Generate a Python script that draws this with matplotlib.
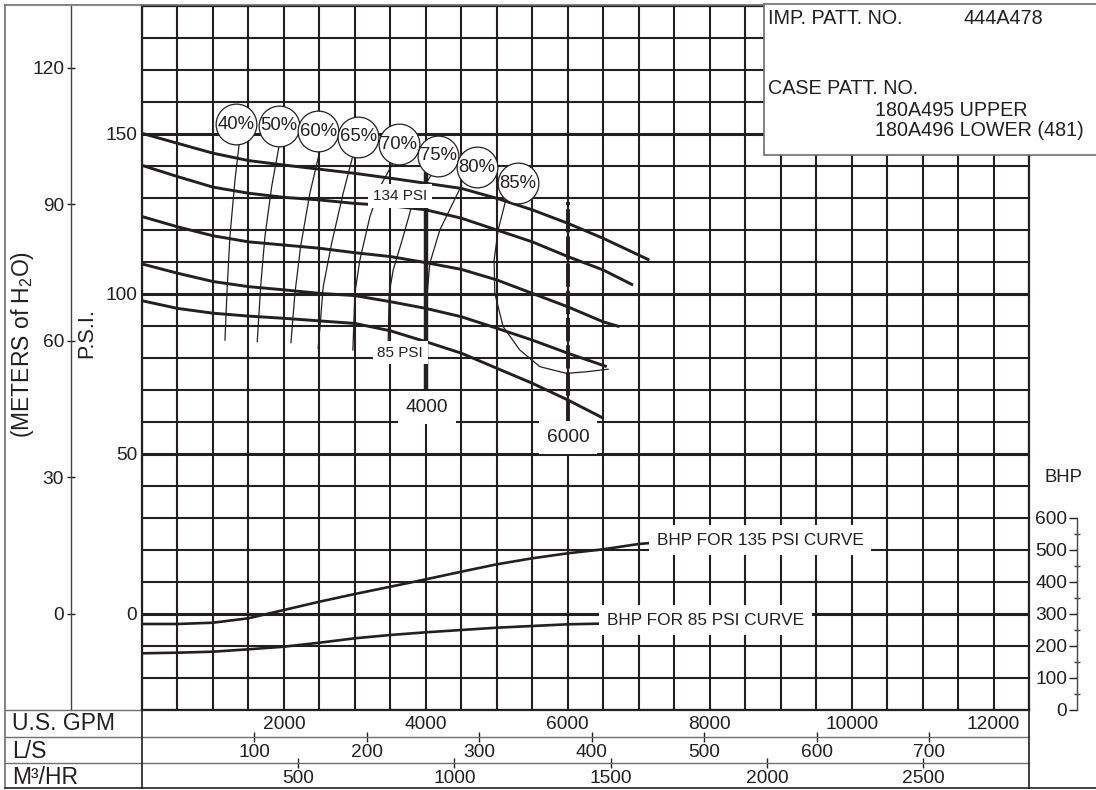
import matplotlib
matplotlib.use("Agg")
import matplotlib.pyplot as plt
from matplotlib.ticker import MultipleLocator, NullLocator
from matplotlib.patches import Rectangle
from matplotlib.lines import Line2D

plt.rcParams['font.family'] = ['Liberation Sans', 'DejaVu Sans']
plt.rcParams['mathtext.default'] = 'regular'

INK = '#231f20'
GREY = '#6d6e71'

# ---------------- data ----------------
# head curves (U.S. GPM vs P.S.I.)
head_a_gpm = [0, 500, 1000, 1500, 2000, 2500, 3000, 3500, 4000, 4500, 5000, 5500, 6000, 6500, 7150]
head_a_psi = [150.2, 147.1, 144.0, 141.7, 140.3, 139.0, 137.7, 136.2, 134.6, 133.0, 129.9, 126.3, 122.1, 117.4, 110.6]
head_b_gpm = [0, 500, 1000, 1500, 2000, 2500, 3000, 3500, 4000, 4500, 5000, 5500, 6000, 6500, 6920]
head_b_psi = [140.2, 136.7, 133.4, 131.5, 130.2, 129.4, 128.3, 127.6, 126.3, 123.7, 120.0, 116.3, 111.7, 107.5, 102.8]
head_c_gpm = [0, 500, 1000, 1500, 2000, 2500, 3000, 3500, 4000, 4500, 5000, 5500, 6000, 6500, 6730]
head_c_psi = [124.2, 121.0, 118.2, 116.3, 115.3, 114.3, 112.9, 111.7, 109.8, 107.7, 104.4, 100.2, 96.0, 91.3, 89.8]
head_d_gpm = [0, 500, 1000, 1500, 2000, 2500, 3000, 3500, 4000, 4500, 5000, 5500, 6000, 6550]
head_d_psi = [109.4, 106.5, 103.9, 102.3, 101.3, 100.2, 99.5, 97.6, 95.5, 92.9, 89.3, 85.6, 81.5, 77.3]
head_e_gpm = [0, 500, 1000, 1500, 2000, 2500, 3000, 3500, 4000, 4500, 5000, 5500, 6000, 6500]
head_e_psi = [97.9, 95.5, 94.0, 93.1, 92.4, 91.6, 90.8, 88.5, 85.1, 81.5, 76.8, 72.1, 66.9, 61.2]

# brake horsepower curves
bhp135_gpm = [0, 500, 1000, 1500, 2000, 2500, 3000, 3500, 4000, 4500, 5000, 5500, 6000, 6500, 7000, 7170]
bhp135_val = [268.8, 268.8, 272.8, 286.6, 312.5, 338.4, 362.5, 385.3, 408.4, 432.2, 455.3, 474.1, 489.7, 502.2, 518.8, 522.0]
bhp85_gpm = [0, 500, 1000, 1500, 2000, 2500, 3000, 3500, 4000, 4500, 5000, 5500, 6000, 6430]
bhp85_val = [177.2, 179.1, 182.2, 189.7, 197.8, 210.3, 224.1, 234.4, 242.8, 250.0, 257.2, 262.5, 267.8, 269.7]

# efficiency bubbles and iso-efficiency lines
eff_labels = ['40%', '50%', '60%', '65%', '70%', '75%', '80%', '85%']
eff_bubble_gpm = [1324, 1930, 2483, 3047, 3620, 4173, 4714, 5300]
eff_bubble_psi = [153.0, 152.6, 150.8, 149.2, 146.8, 143.2, 139.6, 134.6]
eff40_gpm = [1370, 1310, 1239, 1201, 1169]
eff40_psi = [146.9, 135.6, 117.9, 102.3, 85.6]
eff50_gpm = [1934, 1827, 1732, 1672, 1624]
eff50_psi = [146.6, 133.5, 117.9, 102.3, 85.1]
eff60_gpm = [2507, 2366, 2235, 2155, 2099]
eff60_psi = [144.8, 131.5, 114.8, 100.2, 84.8]
eff65_gpm = [2968, 2835, 2672, 2554, 2483]
eff65_psi = [142.9, 131.5, 115.8, 102.3, 83.0]
eff70_gpm = [3535, 3352, 3211, 3070, 3000, 2972]
eff70_psi = [140.9, 133.4, 124.1, 110.6, 100.3, 82.5]
eff75_gpm = [4085, 3799, 3680, 3540, 3483, 3469]
eff75_psi = [137.5, 127.3, 117.9, 107.5, 100.2, 85.1]
eff80_gpm = [4493, 4197, 4056, 4019, 3986]
eff80_psi = [133.5, 120.0, 109.6, 100.2, 87.8]
eff85_gpm = [5127, 5019, 4962, 4972, 5089, 5324, 5606, 5982, 6264, 6569]
eff85_psi = [129.4, 120.0, 110.6, 100.2, 89.8, 82.5, 77.3, 75.2, 75.7, 76.5]

# operating range markers
op_gpm = [4000, 6000]
op_psi_top = [138.1, 128.8]
op_psi_bottom = [69.4, 59.6]

# axes ticks
gpm_ticks = [2000, 4000, 6000, 8000, 10000, 12000]
psi_ticks = [0, 50, 100, 150]
meter_ticks = [0, 30, 60, 90, 120]
ls_ticks = [100, 200, 300, 400, 500, 600, 700]
m3h_ticks = [500, 1000, 1500, 2000, 2500]
bhp_ticks = [0, 100, 200, 300, 400, 500, 600]

PSI_PER_M = 1.4219
GPM_PER_LS = 15.850
GPM_PER_M3H = 4.4029

# ---------------- figure ----------------
W, H = 1096, 790
fig = plt.figure(figsize=(W / 100, H / 100), dpi=100)
fig.patch.set_facecolor('white')


def fx(px):
    return px / W


def fy(py):
    return 1 - py / H


ax = fig.add_axes([fx(142), fy(710), fx(1029) - fx(142), fy(6) - fy(710)])
ax.set_xlim(0, 12500)
ax.set_ylim(-30, 190)
ax.set_axisbelow(True)
ax.xaxis.set_minor_locator(MultipleLocator(500))
ax.yaxis.set_minor_locator(MultipleLocator(10))
ax.set_xticks(gpm_ticks)
ax.set_xticklabels([str(v) for v in gpm_ticks])
ax.set_yticks(psi_ticks)
ax.set_yticklabels([str(v) for v in psi_ticks])
ax.xaxis.grid(True, which='both', color=INK, lw=1.5)
ax.yaxis.grid(True, which='minor', color=INK, lw=1.5)
ax.yaxis.grid(True, which='major', color=INK, lw=2.2)
ax.tick_params(which='both', length=0, labelsize=13.8, colors=INK)
ax.tick_params(axis='x', pad=4.5)
ax.tick_params(axis='y', pad=3.5)
for s in ax.spines.values():
    s.set_color(INK)
    s.set_linewidth(1.6)

# meters of water axis
loc_m = (fx(71) - fx(142)) / (fx(1029) - fx(142))
secm = ax.secondary_yaxis(loc_m, functions=(lambda p: p / PSI_PER_M, lambda m: m * PSI_PER_M))
secm.set_yticks(meter_ticks)
secm.tick_params(direction='inout', length=6, width=1, pad=2, labelsize=13.8, colors=INK)
for s in secm.spines.values():
    s.set_color('#444444')
    s.set_linewidth(1)

# L/S row
loc_ls = (fy(737) - fy(710)) / (fy(6) - fy(710))
secls = ax.secondary_xaxis(loc_ls, functions=(lambda g: g / GPM_PER_LS, lambda l: l * GPM_PER_LS))
secls.set_xticks(ls_ticks)
secls.tick_params(direction='inout', length=7, width=1, pad=1.2, labelsize=13.8, colors=INK)
for s in secls.spines.values():
    s.set_visible(False)

# M3/HR row
loc_m3 = (fy(763) - fy(710)) / (fy(6) - fy(710))
secm3 = ax.secondary_xaxis(loc_m3, functions=(lambda g: g / GPM_PER_M3H, lambda q: q * GPM_PER_M3H))
secm3.set_xticks(m3h_ticks)
secm3.tick_params(direction='inout', length=7, width=1, pad=1.2, labelsize=13.8, colors=INK)
for s in secm3.spines.values():
    s.set_visible(False)

# head curves
for g, p in [(head_a_gpm, head_a_psi), (head_b_gpm, head_b_psi), (head_c_gpm, head_c_psi),
             (head_d_gpm, head_d_psi), (head_e_gpm, head_e_psi)]:
    ax.plot(g, p, color=INK, lw=2.1, solid_capstyle='butt', solid_joinstyle='round', zorder=3)

# efficiency lines
for g, p in [(eff40_gpm, eff40_psi), (eff50_gpm, eff50_psi), (eff60_gpm, eff60_psi),
             (eff65_gpm, eff65_psi), (eff70_gpm, eff70_psi), (eff75_gpm, eff75_psi),
             (eff80_gpm, eff80_psi), (eff85_gpm, eff85_psi)]:
    ax.plot(g, p, color=INK, lw=0.9, solid_joinstyle='round', zorder=3)

# operating markers
ax.vlines(op_gpm[0], op_psi_bottom[0], op_psi_top[0], color=INK, lw=3.2, zorder=3)
ax.vlines(op_gpm[1], op_psi_bottom[1], op_psi_top[1], color=INK, lw=2.8,
          linestyles=(0, (6, 1)), zorder=3)

# bubbles
ax.scatter(eff_bubble_gpm, eff_bubble_psi, s=860, facecolors='white', edgecolors=INK,
           linewidths=0.9, zorder=5)
for g, p, t in zip(eff_bubble_gpm, eff_bubble_psi, eff_labels):
    ax.text(g, p, t, ha='center', va='center', fontsize=13.3, color=INK, zorder=6)

box_w = dict(boxstyle='square,pad=0.3', fc='white', ec='none')
ax.text(3634, 130.6, '134 PSI', ha='center', va='center', fontsize=11, color=INK, bbox=box_w, zorder=6)
ax.text(3641, 81.7, '85 PSI', ha='center', va='center', fontsize=11, color=INK, bbox=box_w, zorder=6)
ax.text(4014, 64.5, '4000', ha='center', va='center', fontsize=13.8, color=INK,
        bbox=dict(boxstyle='square,pad=0.4', fc='white', ec='none'), zorder=6)
ax.text(6004, 55.2, '6000', ha='center', va='center', fontsize=13.8, color=INK,
        bbox=dict(boxstyle='square,pad=0.4', fc='white', ec='none'), zorder=6)

# BHP curves on a twin scale (0 BHP at the grid bottom, 100 BHP per grid row)
axb = ax.twinx()
axb.set_ylim(0, 2200)
axb.set_axis_off()
axb.plot(bhp135_gpm, bhp135_val, color=INK, lw=1.9, zorder=3)
axb.plot(bhp85_gpm, bhp85_val, color=INK, lw=1.9, zorder=3)
box_b = dict(boxstyle='square,pad=0.45', fc='white', ec='none')
axb.text(7254, 531, 'BHP FOR 135 PSI CURVE', ha='left', va='center', fontsize=12.4, color=INK,
         bbox=box_b, zorder=6)
axb.text(6550, 281, 'BHP FOR 85 PSI CURVE', ha='left', va='center', fontsize=12.4, color=INK,
         bbox=box_b, zorder=6)

# BHP scale
axs = fig.add_axes([fx(1077), fy(710), 0.0005, fy(518) - fy(710)])
axs.set_ylim(0, 600)
axs.patch.set_visible(False)
axs.xaxis.set_major_locator(NullLocator())
for k in ['right', 'top', 'bottom']:
    axs.spines[k].set_visible(False)
axs.spines['left'].set_color('#444444')
axs.spines['left'].set_linewidth(1)
axs.set_yticks(bhp_ticks)
axs.yaxis.set_minor_locator(MultipleLocator(50))
axs.tick_params(axis='y', which='major', direction='out', length=6, width=1, pad=1,
                labelsize=13.8, colors=INK)
axs.tick_params(axis='y', which='minor', direction='inout', length=5, width=1, colors='#444444')
fig.text(fx(1063), fy(478), 'BHP', ha='center', va='center', fontsize=13.3, color=INK)


# ---------------- frame / table ----------------
def fline(x0, y0, x1, y1, color, lw):
    fig.add_artist(Line2D([fx(x0), fx(x1)], [fy(y0), fy(y1)], transform=fig.transFigure,
                          color=color, lw=lw, zorder=4))


fline(5, 5, 5, 788, GREY, 1.2)
fline(5, 5, 764, 5, GREY, 1.2)
fline(5, 788, 1096, 788, INK, 1.2)
fline(5, 710, 142, 710, GREY, 1.0)
fline(5, 737, 1029, 737, GREY, 1.0)
fline(5, 763, 1029, 763, GREY, 1.0)
fline(142, 710, 142, 788, INK, 1.2)
fline(1029, 710, 1029, 788, INK, 1.2)

fig.text(fx(12), fy(723), 'U.S. GPM', ha='left', va='center', fontsize=16.5, color=INK)
fig.text(fx(12), fy(751), 'L/S', ha='left', va='center', fontsize=16.5, color=INK)
fig.text(fx(12), fy(777), 'M³/HR', ha='left', va='center', fontsize=16.5, color=INK)

fig.text(fx(87), fy(333), 'P.S.I.', rotation=90, ha='center', va='center', fontsize=15.5, color=INK)
fig.text(fx(23), fy(345), '(METERS of H$_2$O)', rotation=90, ha='center', va='center',
         fontsize=16.5, color=INK)

# pattern number box
fig.add_artist(Rectangle((fx(764), fy(155)), fx(1100) - fx(764), fy(4) - fy(155),
                         transform=fig.transFigure, fc='white', ec=GREY, lw=1.2, zorder=8))
fig.text(fx(768), fy(18), 'IMP. PATT. NO.', ha='left', va='center', fontsize=14.2, color=INK, zorder=9)
fig.text(fx(963), fy(18), '444A478', ha='left', va='center', fontsize=14.2, color=INK, zorder=9)
fig.text(fx(768), fy(88), 'CASE PATT. NO.', ha='left', va='center', fontsize=14.2, color=INK, zorder=9)
fig.text(fx(875), fy(110), '180A495 UPPER', ha='left', va='center', fontsize=14.2, color=INK, zorder=9)
fig.text(fx(875), fy(131), '180A496 LOWER (481)', ha='left', va='center', fontsize=14.2, color=INK, zorder=9)

fig.savefig('out.png', dpi=100, facecolor='white')
